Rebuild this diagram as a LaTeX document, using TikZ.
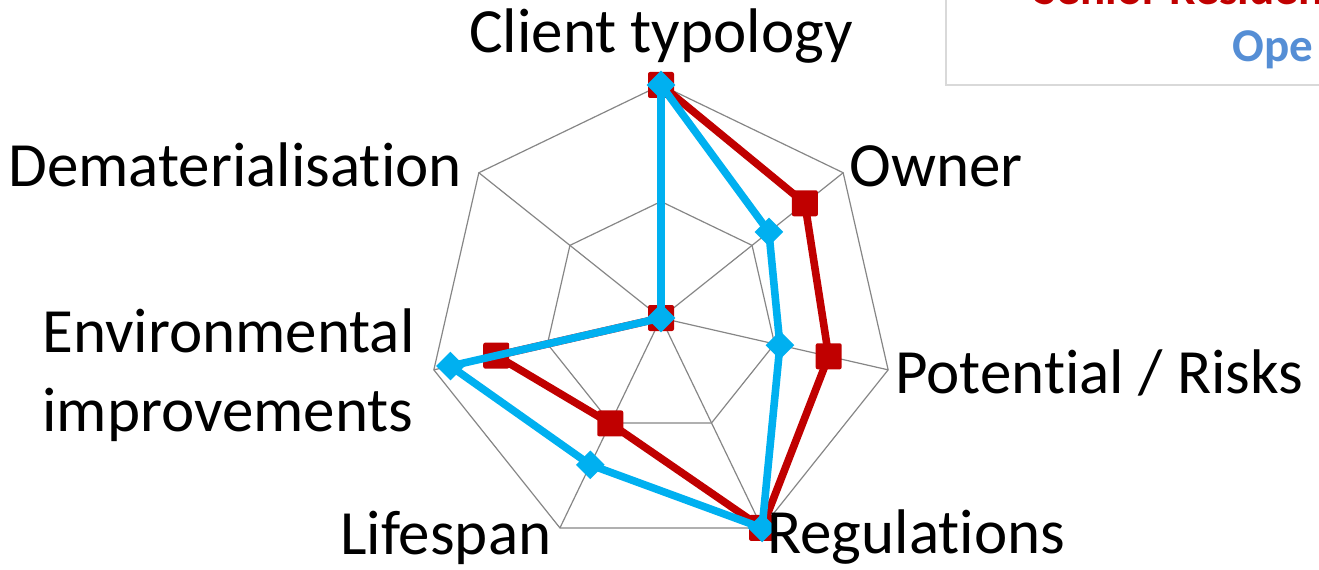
\documentclass[tikz,border=0pt]{standalone}
\usepackage{fontspec}
\setmainfont{Carlito}[Ligatures=NoCommon]
\usetikzlibrary{shapes.geometric}
\definecolor{gridgray}{HTML}{868686}
\definecolor{seniorred}{HTML}{C00000}
\definecolor{officeblue}{HTML}{00B0F0}
\definecolor{legendblue}{HTML}{558ED5}
\definecolor{legendgray}{HTML}{D9D9D9}
\tikzset{
  grid line/.style={draw=gridgray, line width=0.6pt},
  senior line/.style={draw=seniorred, line width=3.8pt, line join=round},
  office line/.style={draw=officeblue, line width=3.8pt, line join=round},
  senior mark/.style={rectangle, fill=seniorred, minimum size=13pt, inner sep=0pt, rounded corners=1pt},
  office mark/.style={diamond, fill=officeblue, minimum size=14.5pt, inner sep=0pt},
  axis label/.style={font=\fontsize{31.5}{39.5}\selectfont, inner sep=0pt},
  legend label/.style={font=\fontsize{23.5}{28}\selectfont\bfseries, inner sep=0pt, anchor=base west},
}
% keep t and i apart (no ligature)
\newcommand{\tsep}{t\kern0pt }
\begin{document}
\begin{tikzpicture}[x=0.5pt, y=0.5pt]
    \useasboundingbox (0,0) rectangle (1319,569);

    % legend (cut by the page edge)
    \draw [legendgray, line width=1pt] (946,640) |- (1400,484);
    \node [legend label, text=seniorred] (senior) at (1034,564) {Senior Residence};
    \node [legend label, text=legendblue] (office) at (1232,507) {Ope};

    \begin{scope}[shift={(661,251)}]
    % grid
    \draw [grid line] (90:233) -- (38.57:233) -- (-12.86:233) -- (-64.29:233) -- (-115.71:233) -- (-167.14:233) -- (141.43:233) -- cycle;
    \draw [grid line] (90:116.5) -- (38.57:116.5) -- (-12.86:116.5) -- (-64.29:116.5) -- (-115.71:116.5) -- (-167.14:116.5) -- (141.43:116.5) -- cycle;
    \draw [grid line] (0,0) -- (90:233) (0,0) -- (38.57:233) (0,0) -- (-12.86:233) (0,0) -- (-64.29:233)
        (0,0) -- (-115.71:233) (0,0) -- (-167.14:233) (0,0) -- (141.43:233);

    % senior residence
    \coordinate (s1) at (90:233);
    \coordinate (s2) at (38.57:184);
    \coordinate (s3) at (-12.86:172);
    \coordinate (s4) at (-64.29:233);
    \coordinate (s5) at (-115.71:117);
    \coordinate (s6) at (-167.14:169);
    \coordinate (s7) at (0,0);
    \draw [senior line] (s1) -- (s2) -- (s3) -- (s4) -- (s5) -- (s6) -- (s7) -- cycle;
    \node [senior mark] (sm1) at (s1) {};
    \node [senior mark] (sm2) at (s2) {};
    \node [senior mark] (sm3) at (s3) {};
    \node [senior mark] (sm4) at (s4) {};
    \node [senior mark] (sm5) at (s5) {};
    \node [senior mark] (sm6) at (s6) {};
    \node [senior mark] (sm7) at (s7) {};

    % open office
    \coordinate (o1) at (90:233);
    \coordinate (o2) at (38.57:138);
    \coordinate (o3) at (-12.86:122);
    \coordinate (o4) at (-64.29:233);
    \coordinate (o5) at (-115.71:163);
    \coordinate (o6) at (-167.14:216);
    \coordinate (o7) at (0,0);
    \draw [office line] (o1) -- (o2) -- (o3) -- (o4) -- (o5) -- (o6) -- (o7) -- cycle;
    \node [office mark] (om1) at (o1) {};
    \node [office mark] (om2) at (o2) {};
    \node [office mark] (om3) at (o3) {};
    \node [office mark] (om4) at (o4) {};
    \node [office mark] (om5) at (o5) {};
    \node [office mark] (om6) at (o6) {};
    \node [office mark] (om7) at (o7) {};
    \end{scope}

    % axis labels
    \node [axis label, anchor=base] (client) at (661,516) {Client typology};
    \node [axis label, anchor=base west] (owner) at (849,382) {Owner};
    \node [axis label, anchor=base west] (risks) at (895,176) {Poten\tsep ial / Risks};
    \node [axis label, anchor=base west] (regul) at (767,16) {Regula\tsep ions};
    \node [axis label, anchor=base west] (life) at (340,15) {Lifespan};
    \node [axis label, anchor=base west, align=left] (envir) at (42,138) {Environmental\\improvements};
    \node [axis label, anchor=base west] (demat) at (8,382) {Dematerialisa\tsep ion};
\end{tikzpicture}
\end{document}
